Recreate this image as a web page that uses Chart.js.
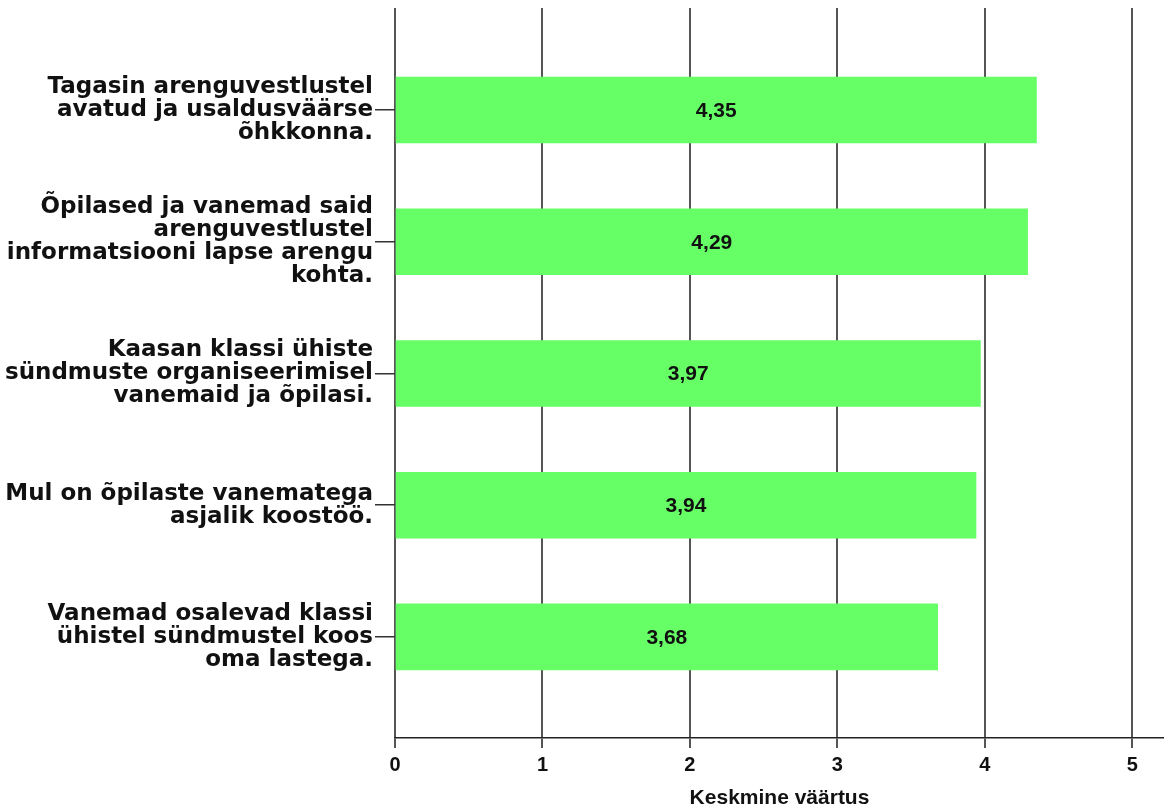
<!DOCTYPE html>
<html>
<head>
<meta charset="utf-8">
<script src="https://cdn.jsdelivr.net/npm/chart.js@4/dist/chart.umd.min.js"></script>
<style>
  html, body { margin: 0; padding: 0; background: #fff; }
  #wrap { width: 1164px; height: 807px; }
</style>
</head>
<body>
<div id="wrap"><canvas id="bar-chart" width="1164" height="807"></canvas></div>
<script>
var kategooriad = [
    ["Tagasin arenguvestlustel", "avatud ja usaldusväärse", "õhkkonna."],
    ["Õpilased ja vanemad said", "arenguvestlustel", "informatsiooni lapse arengu", "kohta."],
    ["Kaasan klassi ühiste", "sündmuste organiseerimisel", "vanemaid ja õpilasi."],
    ["Mul on õpilaste vanematega", "asjalik koostöö."],
    ["Vanemad osalevad klassi", "ühistel sündmustel koos", "oma lastega."]
];
var keskmised = [4.35, 4.29, 3.97, 3.94, 3.68];
var xTicks = [0, 1, 2, 3, 4, 5];
var xPealkiri = "Keskmine väärtus";

// bar value labels, comma decimal
var vaartusSildid = {
    id: 'vaartusSildid',
    afterDatasetsDraw: function (chart) {
        var ctx = chart.ctx;
        var meta = chart.getDatasetMeta(0);
        ctx.save();
        ctx.font = 'bold 21px "Liberation Sans", Arial, sans-serif';
        ctx.fillStyle = '#111';
        ctx.textAlign = 'center';
        ctx.textBaseline = 'middle';
        meta.data.forEach(function (bar, i) {
            var v = keskmised[i].toFixed(2).replace('.', ',');
            ctx.fillText(v, (bar.base + bar.x) / 2, bar.y + 1);
        });
        ctx.restore();
    }
};

var punktid = keskmised.map(function (v, i) { return { x: v, y: i }; });

var ctx = document.getElementById("bar-chart").getContext('2d');
var myChart = new Chart(ctx, {
    type: 'bar',
    data: {
        datasets: [{
            data: punktid,
            backgroundColor: '#66FF66',
            borderWidth: 0,
            barThickness: 66
        }]
    },
    options: {
        indexAxis: 'y',
        responsive: false,
        animation: false,
        layout: { padding: { top: 8, right: 0, left: 0, bottom: 0 } },
        plugins: {
            legend: { display: false },
            tooltip: { enabled: false }
        },
        scales: {
            x: {
                type: 'linear',
                min: 0,
                max: 5.215,
                afterBuildTicks: function (axis) {
                    axis.ticks = xTicks.map(function (t) { return { value: t }; });
                },
                grid: {
                    color: '#555',
                    lineWidth: 2,
                    tickLength: 10,
                    drawOnChartArea: true
                },
                border: { display: true, color: '#222', width: 1.5 },
                ticks: {
                    color: '#111',
                    padding: 5,
                    font: { family: '"Liberation Sans", Arial, sans-serif', size: 20, weight: 'bold' }
                },
                title: {
                    display: true,
                    text: xPealkiri,
                    color: '#111',
                    padding: { top: 4, bottom: -4 },
                    font: { family: '"Liberation Sans", Arial, sans-serif', size: 21, weight: 'bold' }
                },
                afterFit: function (axis) {
                    axis.height = 69;
                    axis.paddingLeft = 0;
                    axis.paddingRight = 0;
                }
            },
            y: {
                type: 'linear',
                reverse: true,
                offset: false,
                min: -0.774,
                max: 4.767,
                afterBuildTicks: function (axis) {
                    axis.ticks = kategooriad.map(function (k, i) { return { value: i }; });
                },
                grid: {
                    offset: false,
                    drawOnChartArea: false,
                    drawTicks: true,
                    tickLength: 20,
                    color: '#333',
                    lineWidth: 1.5
                },
                border: { display: false },
                ticks: {
                    color: '#111',
                    padding: 2,
                    font: { family: '"DejaVu Sans", Verdana, sans-serif', size: 23, weight: 'bold', lineHeight: 1.0 },
                    callback: function (value) { return kategooriad[value]; }
                },
                afterFit: function (axis) {
                    axis.width = 395;
                    axis.paddingTop = 0;
                    axis.paddingBottom = 0;
                }
            }
        }
    },
    plugins: [vaartusSildid]
});
</script>
</body>
</html>
